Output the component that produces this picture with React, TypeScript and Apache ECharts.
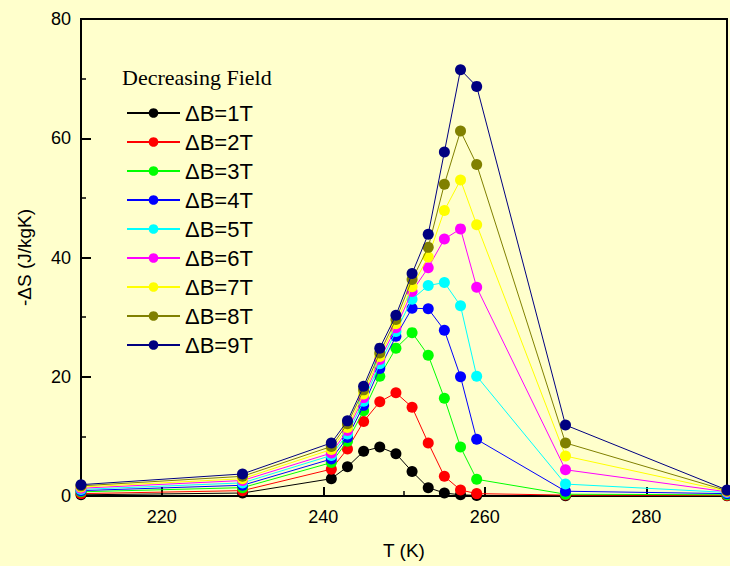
import React, { useEffect, useRef } from "react";
import * as echarts from "echarts";

const temperatures = [210, 230, 241, 243, 245, 247, 249, 251, 253, 255, 257, 259, 270, 290];

const seriesNames = ["ΔB=1T", "ΔB=2T", "ΔB=3T", "ΔB=4T", "ΔB=5T", "ΔB=6T", "ΔB=7T", "ΔB=8T", "ΔB=9T"];
const seriesColors = ["#000000", "#FF0000", "#00FF00", "#0000FF", "#00FFFF", "#FF00FF", "#FFFF00", "#808000", "#000080"];

const dS1 = [0.2, 0.5, 2.9, 4.9, 7.5, 8.2, 7.1, 4.1, 1.4, 0.5, 0.2, 0.1, 0.05, 0.05];
const dS2 = [0.4, 0.9, 4.5, 7.9, 12.5, 15.8, 17.3, 14.9, 8.9, 3.3, 1.0, 0.4, 0.15, 0.1];
const dS3 = [0.7, 1.4, 5.6, 9.2, 14.3, 20.1, 24.8, 27.4, 23.6, 16.4, 8.2, 2.8, 0.3, 0.2];
const dS4 = [0.9, 1.8, 6.2, 9.8, 15.2, 21.4, 26.8, 31.5, 31.4, 27.8, 20.0, 9.5, 0.8, 0.4];
const dS5 = [1.1, 2.2, 6.8, 10.4, 15.9, 22.2, 27.6, 33.0, 35.3, 35.8, 31.9, 20.1, 2.0, 0.6];
const dS6 = [1.3, 2.6, 7.2, 11.0, 16.5, 22.9, 28.2, 34.3, 38.3, 43.1, 44.8, 35.0, 4.4, 0.7];
const dS7 = [1.5, 2.9, 7.8, 11.5, 17.1, 23.4, 28.9, 35.1, 40.1, 47.9, 53.0, 45.5, 6.7, 0.8];
const dS8 = [1.7, 3.3, 8.3, 12.1, 17.8, 24.0, 29.6, 36.3, 41.7, 52.3, 61.2, 55.6, 8.9, 0.9];
const dS9 = [1.9, 3.7, 8.9, 12.6, 18.4, 24.8, 30.3, 37.3, 43.9, 57.7, 71.5, 68.7, 11.9, 1.0];

const allSeries = [dS1, dS2, dS3, dS4, dS5, dS6, dS7, dS8, dS9];

const xMajorTicks = [220, 240, 260, 280];
const xMinorTicks = [230, 250, 270];

const SANS = "Liberation Sans, Arial, sans-serif";
const SERIF = "Liberation Serif, Times New Roman, serif";

export default function App() {
  const ref = useRef<HTMLDivElement>(null);

  useEffect(() => {
    if (!ref.current) return;
    const chart = echarts.init(ref.current, undefined, { renderer: "svg" });
    const option: any = {
      animation: false,
      backgroundColor: "#FFFFCC",
      grid: {
        left: 81,
        top: 19,
        right: 3,
        bottom: 70,
        outerBoundsMode: "none",
        containLabel: false,
        show: true,
        borderColor: "#000",
        borderWidth: 2,
        backgroundColor: "transparent",
      },
      title: {
        text: "Decreasing Field",
        left: 117,
        top: 61,
        textStyle: { fontFamily: SERIF, fontSize: 22, fontWeight: "normal", color: "#000" },
      },
      legend: {
        orient: "vertical",
        left: 121,
        top: 97,
        itemWidth: 53,
        itemHeight: 12,
        itemGap: 7,
        textStyle: { fontFamily: SANS, fontSize: 22, color: "#000" },
        data: seriesNames,
      },
      xAxis: [
        {
          type: "value",
          min: 210,
          max: 290,
          name: "T (K)",
          nameLocation: "middle",
          nameGap: 45,
          nameTextStyle: { fontFamily: SANS, fontSize: 19, color: "#000" },
          axisLine: { show: true, lineStyle: { color: "#000", width: 2 } },
          axisTick: { show: true, inside: true, length: 9, customValues: xMajorTicks, lineStyle: { color: "#000", width: 2 } },
          axisLabel: { customValues: xMajorTicks, fontFamily: SANS, fontSize: 18, color: "#000", margin: 12 },
          splitLine: { show: false },
        },
        {
          type: "value",
          min: 210,
          max: 290,
          position: "bottom",
          axisLine: { show: false },
          axisTick: { show: true, inside: true, length: 5, customValues: xMinorTicks, lineStyle: { color: "#000", width: 1.5 } },
          axisLabel: { show: false },
          splitLine: { show: false },
        },
      ],
      yAxis: {
        type: "value",
        min: 0,
        max: 80,
        interval: 20,
        name: "-ΔS (J/kgK)",
        nameLocation: "middle",
        nameGap: 47,
        nameTextStyle: { fontFamily: SANS, fontSize: 19, color: "#000" },
        axisLine: { show: true, lineStyle: { color: "#000", width: 2 } },
        axisTick: { show: true, inside: true, length: 10, lineStyle: { color: "#000", width: 2 } },
        minorTick: { show: true, splitNumber: 2, length: 5, lineStyle: { color: "#000", width: 1.5 } },
        axisLabel: { fontFamily: SANS, fontSize: 18, color: "#000", margin: 10 },
        splitLine: { show: false },
        minorSplitLine: { show: false },
      },
      series: allSeries.map((vals, i) => ({
        name: seriesNames[i],
        type: "line",
        xAxisIndex: 0,
        data: temperatures.map((t, j) => [t, vals[j]]),
        symbol: "circle",
        symbolSize: 11,
        showSymbol: true,
        clip: false,
        color: seriesColors[i],
        lineStyle: { color: seriesColors[i], width: 1 },
        itemStyle: { color: seriesColors[i] },
        z: 2 + i,
      })),
    };
    chart.setOption(option);
    return () => chart.dispose();
  }, []);

  return (
    <div
      ref={ref}
      style={{ position: "fixed", left: 0, top: 0, width: 730, height: 566 }}
    />
  );
}
